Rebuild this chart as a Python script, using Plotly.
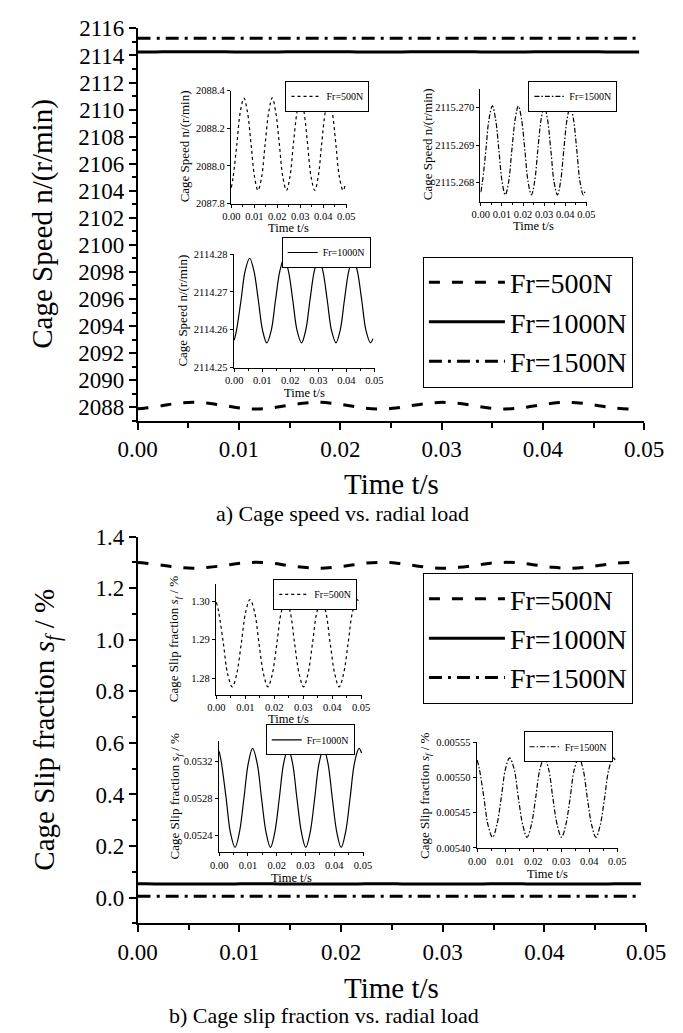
import plotly.graph_objects as go

W, H = 683, 1033
FONT = "Liberation Serif, Times New Roman, serif"

# ---------------- data ----------------
t = [0.0000, 0.0008, 0.0024, 0.0039, 0.0055, 0.0070, 0.0086, 0.0101, 0.0116, 0.0132,
     0.0147, 0.0163, 0.0178, 0.0193, 0.0209, 0.0224, 0.0240, 0.0255, 0.0270, 0.0286,
     0.0301, 0.0316, 0.0332, 0.0347, 0.0363, 0.0378, 0.0393, 0.0409, 0.0424, 0.0439,
     0.0455, 0.0470, 0.0486, 0.0495]

speed_500 = [2087.885, 2087.942, 2088.115, 2088.288, 2088.360, 2088.288, 2088.115, 2087.942, 2087.870, 2087.942,
             2088.115, 2088.288, 2088.362, 2088.288, 2088.115, 2087.942, 2087.870, 2087.942, 2088.115, 2088.288,
             2088.362, 2088.288, 2088.115, 2087.942, 2087.870, 2087.942, 2088.115, 2088.288, 2088.362, 2088.288,
             2088.115, 2087.942, 2087.870, 2087.895]
speed_1000 = [2114.2572, 2114.2598, 2114.2677, 2114.2756, 2114.2789, 2114.2756, 2114.2677, 2114.2598, 2114.2565, 2114.2598,
              2114.2677, 2114.2756, 2114.2789, 2114.2756, 2114.2677, 2114.2598, 2114.2565, 2114.2598, 2114.2677, 2114.2756,
              2114.2789, 2114.2756, 2114.2677, 2114.2598, 2114.2565, 2114.2598, 2114.2677, 2114.2756, 2114.2789, 2114.2756,
              2114.2677, 2114.2598, 2114.2565, 2114.2576]
speed_1500 = [2115.26775, 2115.26803, 2115.26886, 2115.26969, 2115.27004, 2115.26969, 2115.26886, 2115.26803, 2115.26768, 2115.26803,
              2115.26886, 2115.26969, 2115.27004, 2115.26969, 2115.26886, 2115.26803, 2115.26768, 2115.26803, 2115.26886, 2115.26969,
              2115.27004, 2115.26969, 2115.26886, 2115.26803, 2115.26768, 2115.26803, 2115.26886, 2115.26969, 2115.27004, 2115.26969,
              2115.26886, 2115.26803, 2115.26768, 2115.26780]

slip_500 = [1.2998, 1.2972, 1.2891, 1.2810, 1.2777, 1.2810, 1.2891, 1.2972, 1.3005, 1.2972,
            1.2891, 1.2810, 1.2777, 1.2810, 1.2891, 1.2972, 1.3005, 1.2972, 1.2891, 1.2810,
            1.2777, 1.2810, 1.2891, 1.2972, 1.3005, 1.2972, 1.2891, 1.2810, 1.2777, 1.2810,
            1.2891, 1.2972, 1.3005, 1.2994]
slip_1000 = [0.05331, 0.05318, 0.052805, 0.05243, 0.05227, 0.05243, 0.052805, 0.05318, 0.05334, 0.05318,
             0.052805, 0.05243, 0.05227, 0.05243, 0.052805, 0.05318, 0.05334, 0.05318, 0.052805, 0.05243,
             0.05227, 0.05243, 0.052805, 0.05318, 0.05334, 0.05318, 0.052805, 0.05243, 0.05227, 0.05243,
             0.052805, 0.05318, 0.05334, 0.05329]
slip_1500 = [0.005525, 0.005512, 0.0054715, 0.005432, 0.005415, 0.005432, 0.0054715, 0.005512, 0.005528, 0.005512,
             0.0054715, 0.005432, 0.005415, 0.005432, 0.0054715, 0.005512, 0.005528, 0.005512, 0.0054715, 0.005432,
             0.005415, 0.005432, 0.0054715, 0.005512, 0.005528, 0.005512, 0.0054715, 0.005432, 0.005415, 0.005432,
             0.0054715, 0.005512, 0.005528, 0.005523]

series_names = ["Fr=500N", "Fr=1000N", "Fr=1500N"]
speed_series = [speed_500, speed_1000, speed_1500]
slip_series = [slip_500, slip_1000, slip_1500]


def fx(p):
    return p / W


def fy(p):
    return 1 - p / H


MAIN_DASH = ["11px,12px", "solid", "13px,6px,3px,6px"]
INSET_DASH = ["3px,3px", "solid", "5px,2px,1.5px,2px"]

fig = go.Figure()

for name, ys, dash in zip(series_names, speed_series, MAIN_DASH):
    fig.add_trace(go.Scatter(x=t, y=ys, name=name, mode="lines", line_shape="spline",
                             line=dict(color="black", width=3, dash=dash),
                             xaxis="x", yaxis="y", legend="legend"))
for name, ys, dash in zip(series_names, slip_series, MAIN_DASH):
    fig.add_trace(go.Scatter(x=t, y=ys, name=name, mode="lines", line_shape="spline",
                             line=dict(color="black", width=3, dash=dash),
                             xaxis="x2", yaxis="y2", legend="legend2"))

insets = [
    (0, speed_500, 3, "legend3"),
    (2, speed_1500, 4, "legend4"),
    (1, speed_1000, 5, "legend5"),
    (0, slip_500, 6, "legend6"),
    (1, slip_1000, 7, "legend7"),
    (2, slip_1500, 8, "legend8"),
]
for idx, ys, ax, lg in insets:
    fig.add_trace(go.Scatter(x=t, y=ys, name=series_names[idx], mode="lines", line_shape="spline",
                             line=dict(color="black", width=1.2, dash=INSET_DASH[idx]),
                             xaxis=f"x{ax}", yaxis=f"y{ax}", legend=lg))


def axis_common(size, lw, tl):
    return dict(showline=True, linecolor="black", linewidth=lw, ticks="outside", ticklen=tl,
                tickwidth=lw, tickcolor="black", showgrid=False, zeroline=False, tickangle=0,
                tickfont=dict(family=FONT, size=size, color="black"))


layout = dict(width=W, height=H, margin=dict(l=0, r=0, t=0, b=0), autosize=False,
              paper_bgcolor="white", plot_bgcolor="rgba(0,0,0,0)",
              font=dict(family=FONT, color="black"))

layout["xaxis"] = dict(axis_common(23, 1.5, 7), domain=[fx(125), fx(663)], range=[0, 0.05],
                       dtick=0.01, tickformat=".2f", anchor="y",
                       minor=dict(dtick=0.005, ticklen=5, tickwidth=1.5, tickcolor="black", ticks="outside"))
layout["yaxis"] = dict(axis_common(23, 1.5, 7), domain=[fy(416), fy(16.7)], range=[2087, 2116],
                       dtick=2, tick0=0, anchor="x",
                       minor=dict(dtick=1, ticklen=4, tickwidth=1.5, tickcolor="black", ticks="outside"))
layout["xaxis2"] = dict(axis_common(23, 1.5, 7), domain=[fx(125), fx(665)], range=[0, 0.05],
                        dtick=0.01, tickformat=".2f", anchor="y2",
                        minor=dict(dtick=0.005, ticklen=5, tickwidth=1.5, tickcolor="black", ticks="outside"))
layout["yaxis2"] = dict(axis_common(23, 1.5, 7), domain=[fy(927.5), fy(534)], range=[-0.1, 1.4],
                        dtick=0.2, tick0=0, tickformat=".1f", anchor="x2",
                        minor=dict(dtick=0.1, ticklen=4, tickwidth=1.5, tickcolor="black", ticks="outside"))

inset_axes = [
    (3, 224, 347, 80, 195, [2087.7995, 2088.4005], 0.2, 0, ".1f"),
    (4, 489, 602, 78, 193, [2115.2675, 2115.2705], 0.001, 2115.268, ".3f"),
    (5, 227, 377, 246, 362, [2114.2499, 2114.2801], 0.01, 0, ".2f"),
    (6, 208, 363, 582, 695, [1.2756, 1.3046], 0.01, 0, ".2f"),
    (7, 211, 365, 742, 855, [0.05222, 0.05342], 0.0004, 0.0524, ".4f"),
    (8, 485, 635, 743, 851, [0.0053995, 0.0055505], 0.00005, 0.0054, ".5f"),
]
for ax, x0, x1, ytop, ybot, yr, dt, t0, fmt in inset_axes:
    layout[f"xaxis{ax}"] = dict(axis_common(10.5, 1, 3), domain=[fx(x0), fx(x1)], range=[-0.0002, 0.0502],
                                dtick=0.01, tick0=0, tickformat=".2f", anchor=f"y{ax}", ticklabelstandoff=0,
                                minor=dict(dtick=0.005, ticklen=2, tickwidth=1, tickcolor="black", ticks="outside"))
    layout[f"yaxis{ax}"] = dict(axis_common(10.5, 1, 3), domain=[fy(ybot), fy(ytop)], range=yr,
                                dtick=dt, tick0=t0, tickformat=fmt, anchor=f"x{ax}")


def legend_box(x, y, size, iw=30):
    return dict(x=fx(x), y=fy(y), xanchor="left", yanchor="top", bgcolor="white",
                bordercolor="black", borderwidth=1, font=dict(family=FONT, size=size, color="black"),
                tracegroupgap=0, itemwidth=iw)


layout["legend"] = legend_box(428, 249, 28, 76)
layout["legend2"] = legend_box(428, 571, 28, 76)
layout["legend3"] = legend_box(282, 70, 10)
layout["legend4"] = legend_box(540, 70, 10)
layout["legend5"] = legend_box(278, 229, 10)
layout["legend6"] = legend_box(269, 577, 10)
layout["legend7"] = legend_box(261, 725, 10)
layout["legend8"] = legend_box(535, 732, 10)

fig.update_layout(**layout)


def ann(text, x, y, size, angle=0):
    fig.add_annotation(text=text, x=fx(x), y=fy(y), xref="paper", yref="paper", showarrow=False,
                       xanchor="center", yanchor="middle", textangle=angle,
                       font=dict(family=FONT, size=size, color="black"))


ann("Cage Speed n/(r/min)", 24, 216, 29, -90)
ann("Time t/s", 395, 480, 29)
ann("a) Cage speed vs. radial load", 343, 510, 22)
ann("Cage Slip fraction <i>s<sub>f</sub></i> / %", 28, 730, 29, -90)
ann("Time t/s", 395, 993, 29)
ann("b) Cage slip fraction vs. radial load", 323, 1021, 22)

speed_title = "Cage Speed n/(r/min)"
slip_title = "Cage Slip fraction <i>s<sub>f</sub></i> / %"
ann(speed_title, 175, 137, 13, -90)
ann("Time t/s", 285, 220, 12.5)
ann(speed_title, 433, 135, 13, -90)
ann("Time t/s", 545, 218, 12.5)
ann(speed_title, 173, 304, 13, -90)
ann("Time t/s", 302, 388, 12.5)
ann(slip_title, 165, 638, 13, -90)
ann("Time t/s", 285, 720, 12.5)
ann(slip_title, 165, 798, 13, -90)
ann("Time t/s", 288, 881, 12.5)
ann(slip_title, 430, 797, 13, -90)
ann("Time t/s", 560, 877, 12.5)

fig.write_html("out.html")
